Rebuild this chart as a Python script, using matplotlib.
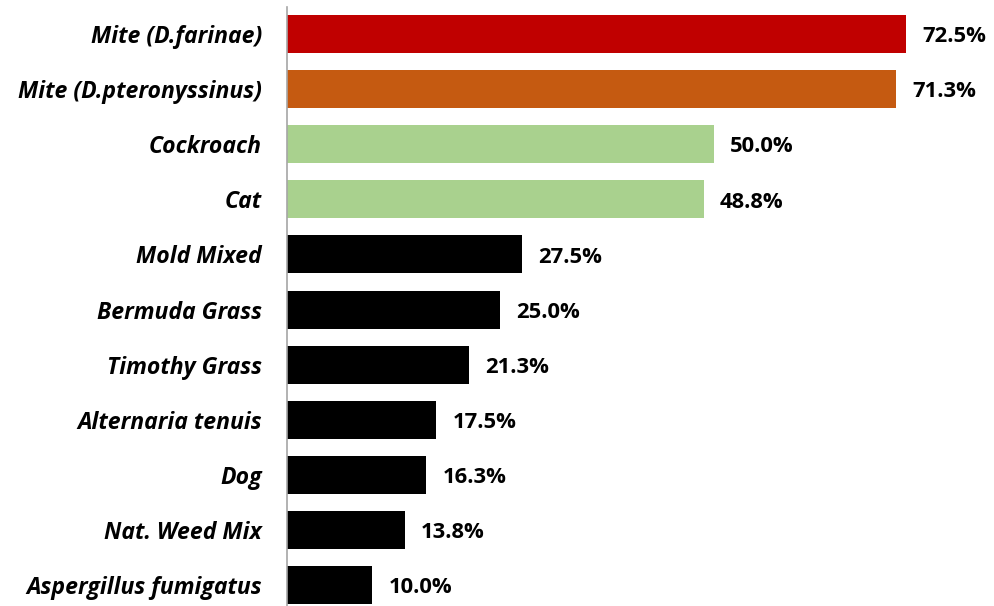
import matplotlib
matplotlib.use("Agg")
import matplotlib.pyplot as plt

# allergen sensitisation rates (%)
allergens = ["Mite (D.farinae)", "Mite (D.pteronyssinus)", "Cockroach", "Cat",
             "Mold Mixed", "Bermuda Grass", "Timothy Grass", "Alternaria tenuis",
             "Dog", "Nat. Weed Mix", "Aspergillus fumigatus"]
rates = [72.5, 71.3, 50.0, 48.8, 27.5, 25.0, 21.3, 17.5, 16.3, 13.8, 10.0]
colors = ["#C00000", "#C55A11", "#A9D18E", "#A9D18E"] + ["#000000"] * 7

plt.rcParams["font.family"] = ["Open Sans", "DejaVu Sans"]

fig = plt.figure(figsize=(9.94, 6.06), dpi=100)
ax = fig.add_axes([287 / 994, 0, 683 / 994, 1 - 7 / 606])

y = list(range(len(allergens)))
ax.barh(y, rates, height=0.69, color=colors)

for yi, v in zip(y, rates):
    ax.text(v + 1.9, yi + 0.05, f"{v:.1f}%", va="center", ha="left",
            fontsize=15.8, fontweight="bold", color="#000000")

ax.set_xlim(0, 80)
ax.set_ylim(10.38, -0.49)
ax.set_yticks(y)
ax.set_yticklabels(allergens, fontsize=16.6, fontweight="bold", fontstyle="italic")
ax.tick_params(axis="y", length=0, pad=18)
ax.set_xticks([])

for side in ["top", "right", "bottom"]:
    ax.spines[side].set_visible(False)
ax.spines["left"].set_color("#A6A6A6")
ax.spines["left"].set_linewidth(1.2)

fig.savefig("out.png", dpi=100)
